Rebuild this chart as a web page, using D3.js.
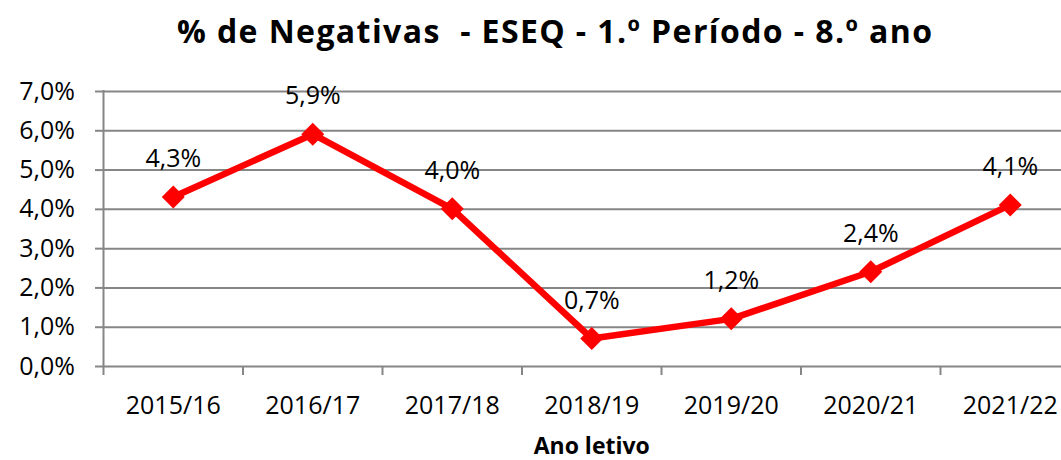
<!DOCTYPE html>
<html>
<head>
<meta charset="utf-8">
<script src="https://cdn.jsdelivr.net/npm/d3@7"></script>
<style>
  html, body { margin: 0; padding: 0; background: #fff; }
  svg { display: block; }
  text { font-family: "Open Sans", sans-serif; }
</style>
</head>
<body>
<svg id="chart" width="1061" height="460"></svg>
<script>
const categories = ["2015/16", "2016/17", "2017/18", "2018/19", "2019/20", "2020/21", "2021/22"];
const values = [4.3, 5.9, 4.0, 0.7, 1.2, 2.4, 4.1];
const yTicks = [0, 1, 2, 3, 4, 5, 6, 7];
const titleText = "% de Negativas  - ESEQ - 1.º Período - 8.º ano";
const xTitle = "Ano letivo";

(function () {
const svg = d3.select("#chart");
const left = 103.5, plotRight = 1080, plotTop = 91, plotBottom = 366;
const gridColor = "#868686";

const x = d3.scaleBand().domain(categories).range([left, plotRight]).paddingInner(0).paddingOuter(0);
const y = d3.scaleLinear().domain([0, 7]).range([plotBottom, plotTop]);
const cx = c => x(c) + x.bandwidth() / 2;

// gridlines
const grid = svg.append("g").attr("transform", `translate(${left},0)`)
  .call(d3.axisLeft(y).tickValues(yTicks).tickSizeInner(-(plotRight - left)).tickSizeOuter(0).tickFormat(""));
grid.select(".domain").remove();
grid.selectAll(".tick line").attr("stroke", gridColor).attr("stroke-width", 2);

// y axis with labels
const yAx = svg.append("g").attr("transform", `translate(${left},0)`)
  .call(d3.axisLeft(y).tickValues(yTicks).tickSizeInner(8.5).tickSizeOuter(0).tickPadding(20)
    .tickFormat(d => d.toFixed(1).replace(".", ",") + "%"));
yAx.select(".domain").remove();
yAx.selectAll(".tick line").attr("stroke", gridColor).attr("stroke-width", 2);
yAx.selectAll(".tick text").attr("font-size", 25).attr("fill", "#000").attr("font-family", "Open Sans, sans-serif");

// vertical axis line
svg.append("line").attr("x1", left).attr("x2", left).attr("y1", y(7) - 1).attr("y2", plotBottom + 9)
  .attr("stroke", gridColor).attr("stroke-width", 2);

// x axis labels
const xAx = svg.append("g").attr("transform", `translate(0,${plotBottom})`)
  .call(d3.axisBottom(x).tickSize(0).tickPadding(30));
xAx.select(".domain").remove();
xAx.selectAll(".tick text").attr("font-size", 25).attr("fill", "#000").attr("font-family", "Open Sans, sans-serif");

// x boundary ticks
svg.append("g").selectAll("line").data(categories).join("line")
  .attr("x1", c => x(c) + x.bandwidth()).attr("x2", c => x(c) + x.bandwidth())
  .attr("y1", plotBottom).attr("y2", plotBottom + 9)
  .attr("stroke", gridColor).attr("stroke-width", 2);

// line
const pts = categories.map((c, i) => ({ c, v: values[i] }));
svg.append("path").datum(pts)
  .attr("fill", "none").attr("stroke", "#ff0000").attr("stroke-width", 6.5)
  .attr("stroke-linejoin", "round")
  .attr("d", d3.line().x(d => cx(d.c)).y(d => y(d.v)));

// markers
const r = 11.5;
svg.append("g").selectAll("path").data(pts).join("path")
  .attr("d", `M0,${-r}L${r},0L0,${r}L${-r},0Z`)
  .attr("transform", d => `translate(${cx(d.c)},${y(d.v)})`)
  .attr("fill", "#ff0000");

// data labels
svg.append("g").selectAll("text").data(pts).join("text")
  .attr("x", d => cx(d.c)).attr("y", d => y(d.v) - 30)
  .attr("text-anchor", "middle").attr("font-size", 25).attr("fill", "#000")
  .text(d => d.v.toFixed(1).replace(".", ",") + "%");

// title
svg.append("text").attr("x", 554.5).attr("y", 43).attr("text-anchor", "middle")
  .attr("font-size", 32).attr("font-weight", "bold").attr("fill", "#000")
  .attr("textLength", 755).attr("lengthAdjust", "spacing")
  .style("white-space", "pre")
  .text(titleText);

// x axis title
svg.append("text").attr("x", (left + plotRight) / 2).attr("y", 454).attr("text-anchor", "middle")
  .attr("font-size", 23).attr("font-weight", "bold").attr("fill", "#000").text(xTitle);
})();
</script>
</body>
</html>
